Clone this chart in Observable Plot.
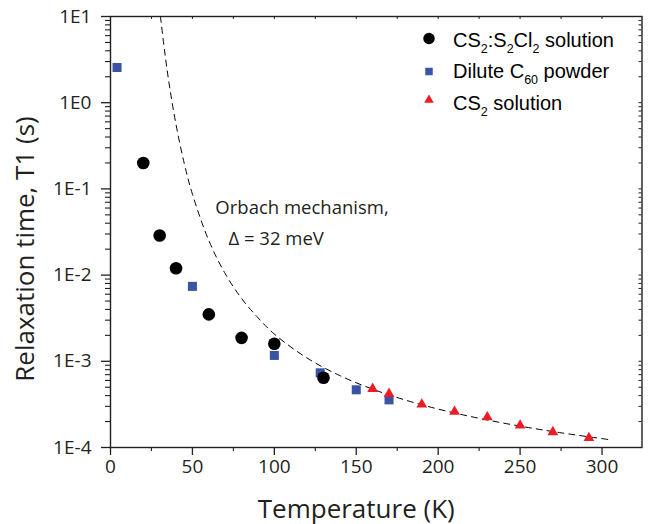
<!DOCTYPE html>
<html>
<head>
<meta charset="utf-8">
<script src="https://cdn.jsdelivr.net/npm/d3@7"></script>
<script src="https://cdn.jsdelivr.net/npm/@observablehq/plot@0.6"></script>
<style>
  body { margin: 0; background: #fff; }
  #chart { width: 650px; height: 524px; }
</style>
</head>
<body>
<div id="chart"></div>
<script>
// ---- data ----
const circleT  = [20, 30, 40, 60, 80, 100, 130];
const circleT1 = [0.20, 0.0288, 0.012, 0.0035, 0.00187, 0.0016, 0.000645];

const squareT  = [4, 50, 100, 128, 150, 170];
const squareT1 = [2.56, 0.0074, 0.00117, 0.000735, 0.000467, 0.000357];

const triT  = [160, 170, 190, 210, 230, 250, 270, 292];
const triT1 = [0.00048, 0.00042, 0.000316, 0.00026, 0.000225, 0.00018, 0.000151, 0.000129];

// dashed Orbach curve
const fitT  = [30.5, 33, 36, 40, 45, 50, 60, 70, 80, 90, 100, 120, 140, 160, 180, 200, 225, 250, 275, 305];
const fitT1 = [10.0, 4.0, 1.56, 0.557, 0.198, 0.087, 0.0252, 0.0104, 0.00536, 0.0032, 0.00207, 0.00109,
               0.000682, 0.000475, 0.000355, 0.000279, 0.000218, 0.000177, 0.000148, 0.000123];

const seriesNames = ["CS2:S2Cl2 solution", "Dilute C60 powder", "CS2 solution"];
const xTicks = [0, 50, 100, 150, 200, 250, 300];
const xMinorTicks = [25, 75, 125, 175, 225, 275];
const yTicks = [10, 1, 0.1, 0.01, 0.001, 0.0001];
const yTickLabels = ["1E1", "1E0", "1E-1", "1E-2", "1E-3", "1E-4"];
const yMinorMult = [2, 3, 4, 5, 6, 7, 8, 9];

const annotText = ["Orbach mechanism,", "\u0394 = 32 meV"];
const annotT  = [64, 72];
const annotT1 = [0.0505, 0.0226];

const xLabel = "Temperature (K)";
const yLabel = "Relaxation time, T1 (s)";

// ---- derived tables ----
const circles = circleT.map((t, i) => ({T: t, T1: circleT1[i]}));
const squares = squareT.map((t, i) => ({T: t, T1: squareT1[i]}));
const tris = triT.map((t, i) => ({T: t, T1: triT1[i]}));
const fit = fitT.map((t, i) => ({T: t, T1: fitT1[i]}));
const annots = annotText.map((s, i) => ({s, T: annotT[i], T1: annotT1[i]}));
const yMinor = yTicks.slice(1).flatMap(d => yMinorMult.map(m => d * m));

const ink = "#231f20";
const blue = "#3a54a4";
const red = "#ed1c24";
const W = 650, H = 524, mL = 110, mR = 8.5, mT = 16, mB = 77;
const plotW = W - mL - mR, plotH = H - mT - mB;

const plot = Plot.plot({
  width: W, height: H,
  marginLeft: mL, marginRight: mR, marginTop: mT, marginBottom: mB,
  style: {fontFamily: "'Open Sans', sans-serif", color: ink, background: "#fff"},
  x: {domain: [0, 324.4]},
  y: {type: "log", domain: [1e-4, 10]},
  marks: [
    Plot.axisY({ticks: yTicks, tickSize: 9, tickPadding: 10, strokeWidth: 1.3,
      tickFormat: d => yTickLabels[yTicks.findIndex(v => Math.abs(Math.log10(v) - Math.log10(d)) < 1e-6)],
      fontSize: 19, label: null}),
    Plot.axisY({ticks: yMinor, tickSize: 5, strokeWidth: 1.1, tickFormat: () => "", label: null}),
    Plot.axisX({ticks: xTicks, tickSize: 8, tickPadding: 4, strokeWidth: 1.3, fontSize: 19, label: null}),
    Plot.axisX({ticks: xMinorTicks, tickSize: 4, strokeWidth: 1.1, tickFormat: () => "", label: null}),
    // inward mirrored ticks on top and right
    Plot.tickX(xTicks.concat(xMinorTicks), {x: d => d, insetBottom: plotH - 3, stroke: ink, strokeWidth: 1}),
    Plot.tickY(yTicks.concat(yMinor), {y: d => d, insetLeft: plotW - 3, stroke: ink, strokeWidth: 1}),
    Plot.frame({stroke: ink, strokeWidth: 1.4}),
    Plot.line(fit, {x: "T", y: "T1", stroke: "#000", strokeWidth: 1, strokeDasharray: "6,5", curve: "catmull-rom", clip: true}),
    Plot.dot(squares, {x: "T", y: "T1", symbol: "square", r: 5.1, fill: blue, stroke: null}),
    Plot.dot(tris, {x: "T", y: "T1", symbol: "triangle", r: 4, fill: red, stroke: null}),
    Plot.dot(circles, {x: "T", y: "T1", symbol: "circle", r: 6.3, fill: "#000", stroke: null}),
    Plot.text(annots, {x: "T", y: "T1", text: "s", textAnchor: "start", lineAnchor: "bottom", fontSize: 18.5, fill: ink}),
    Plot.text([xLabel], {frameAnchor: "bottom", dx: -20, dy: 70, textAnchor: "middle", lineAnchor: "bottom", fontSize: 26, fill: ink}),
    Plot.text([yLabel], {frameAnchor: "left", dx: -77, dy: 17, rotate: -90, textAnchor: "middle", lineAnchor: "bottom", fontSize: 26, fill: ink})
  ]
});
document.getElementById("chart").appendChild(plot);

// ---- legend (with subscripts) ----
const legendParts = [
  [["CS", 0], ["2", 1], [":S", 0], ["2", 1], ["Cl", 0], ["2", 1], [" solution", 0]],
  [["Dilute C", 0], ["60", 1], [" powder", 0]],
  [["CS", 0], ["2", 1], [" solution", 0]]
];
const legendSymbols = [
  {type: d3.symbolCircle, size: Math.PI * 5.7 * 5.7, color: "#000"},
  {type: d3.symbolSquare, size: 7.5 * 7.5, color: blue},
  {type: d3.symbolTriangle, size: 40, color: red}
];
const svg = d3.select(plot);
const lg = svg.append("g").attr("class", "legend").attr("text-anchor", "start");
const rowY = [46.7, 77.5, 110];
const symY = [38.5, 71.5, 100];
legendParts.forEach((parts, i) => {
  const s = legendSymbols[i];
  lg.append("path")
    .attr("d", d3.symbol(s.type, s.size)())
    .attr("transform", `translate(429,${symY[i]})`)
    .attr("fill", s.color);
  const t = lg.append("text")
    .attr("x", 453).attr("y", rowY[i])
    .attr("text-anchor", "start")
    .attr("font-family", "'Liberation Sans', Arial, sans-serif")
    .attr("font-size", 20).attr("fill", "#000");
  let shifted = false;
  parts.forEach(([str, sub]) => {
    const ts = t.append("tspan").text(str);
    if (sub && !shifted) { ts.attr("dy", 6).attr("font-size", 12.5); shifted = true; }
    else if (sub) { ts.attr("font-size", 12.5); }
    else if (shifted) { ts.attr("dy", -6); shifted = false; }
  });
  t.attr("aria-label", seriesNames[i]);
});
</script>
</body>
</html>
